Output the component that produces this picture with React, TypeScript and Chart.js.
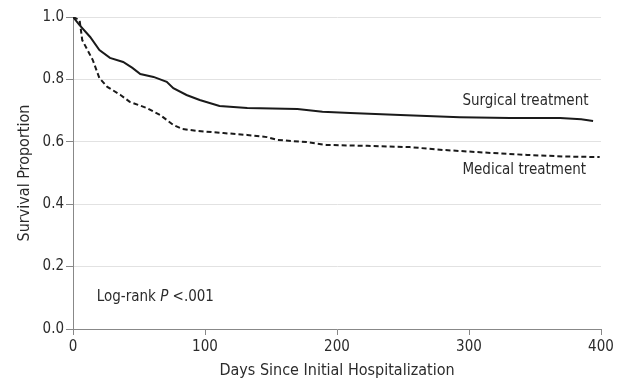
import React, { useEffect, useRef } from "react";
import { Chart, registerables } from "chart.js";

Chart.register(...registerables);

const surgicalDays = [0, 5, 13, 20, 28, 38, 45, 51, 61, 71, 76, 86, 96, 111, 132, 170, 189, 210, 248, 293, 331, 369, 385, 394];
const surgicalSurv = [1.0, 0.974, 0.936, 0.894, 0.869, 0.856, 0.837, 0.817, 0.808, 0.792, 0.772, 0.75, 0.734, 0.715, 0.708, 0.705, 0.696, 0.692, 0.686, 0.679, 0.676, 0.676, 0.672, 0.667];

const medicalDays = [0, 5, 7, 15, 20, 26, 36, 43, 56, 66, 76, 83, 94, 114, 132, 147, 155, 177, 192, 223, 255, 280, 318, 344, 372, 399];
const medicalSurv = [1.0, 0.99, 0.926, 0.862, 0.804, 0.776, 0.75, 0.728, 0.708, 0.686, 0.654, 0.641, 0.635, 0.628, 0.622, 0.615, 0.606, 0.599, 0.59, 0.587, 0.583, 0.574, 0.564, 0.558, 0.553, 0.551];

const yTicks = [0, 0.2, 0.4, 0.6, 0.8, 1.0];
const xTicks = [0, 100, 200, 300, 400];

const annotations = [
  { text: "Surgical treatment", day: 295, surv: 0.731 },
  { text: "Medical treatment", day: 295, surv: 0.51 },
];
const logRank = { day: 18, surv: 0.103 };

const FONT = "'DejaVu Sans Condensed', 'Liberation Sans Narrow', 'DejaVu Sans', sans-serif";
const TEXT = "#2b2b2b";

export default function App() {
  const ref = useRef<HTMLCanvasElement | null>(null);
  useEffect(() => {
    if (!ref.current) return;
    const labelPlugin = {
      id: "labels",
      afterDatasetsDraw(chart: any) {
        const { ctx, scales } = chart;
        const xs = scales.x, ys = scales.y;
        ctx.save();
        ctx.fillStyle = TEXT;
        ctx.textBaseline = "middle";
        ctx.textAlign = "left";
        ctx.font = `15px ${FONT}`;
        annotations.forEach((a) => {
          ctx.fillText(a.text, xs.getPixelForValue(a.day), ys.getPixelForValue(a.surv));
        });
        let x = xs.getPixelForValue(logRank.day);
        const y = ys.getPixelForValue(logRank.surv);
        const p1 = "Log-rank ";
        ctx.fillText(p1, x, y);
        x += ctx.measureText(p1).width;
        ctx.font = `italic 15px ${FONT}`;
        ctx.fillText("P", x, y);
        x += ctx.measureText("P").width;
        ctx.font = `15px ${FONT}`;
        ctx.fillText(" <.001", x, y);
        ctx.restore();
      },
    };
    const chart = new Chart(ref.current, {
      type: "line",
      data: {
        datasets: [
          {
            label: "Surgical treatment",
            data: surgicalDays.map((d, i) => ({ x: d, y: surgicalSurv[i] })),
            borderColor: "#1a1a1a",
            borderWidth: 2,
            pointRadius: 0,
            tension: 0,
          },
          {
            label: "Medical treatment",
            data: medicalDays.map((d, i) => ({ x: d, y: medicalSurv[i] })),
            borderColor: "#1a1a1a",
            borderWidth: 2,
            borderDash: [5, 3],
            pointRadius: 0,
            tension: 0,
          },
        ],
      },
      options: {
        animation: false,
        responsive: false,
        layout: { padding: { left: 0, top: 17, right: 16, bottom: 0 } },
        plugins: { legend: { display: false }, tooltip: { enabled: false } },
        scales: {
          x: {
            type: "linear",
            min: 0,
            max: 400,
            afterBuildTicks: (s: any) => { s.ticks = xTicks.map((v) => ({ value: v })); },
            afterFit: (s: any) => { s.height = 53; },
            grid: { drawOnChartArea: false, color: "#888", tickColor: "#888", tickLength: 6 },
            border: { color: "#888", width: 1 },
            ticks: { color: TEXT, font: { family: FONT, size: 15 }, padding: 3, maxRotation: 0 },
            title: { display: true, text: "Days Since Initial Hospitalization", color: TEXT, font: { family: FONT, size: 16 }, padding: { top: 0, bottom: 2 } },
          },
          y: {
            min: 0,
            max: 1,
            afterBuildTicks: (s: any) => { s.ticks = yTicks.map((v) => ({ value: v })); },
            afterFit: (s: any) => { s.width = 73; },
            grid: { color: "#e2e2e2", tickColor: "#888", tickLength: 7, lineWidth: 1 },
            border: { color: "#888", width: 1 },
            ticks: { color: TEXT, font: { family: FONT, size: 15 }, padding: 2, callback: (v: any) => Number(v).toFixed(1) },
            title: { display: true, text: "Survival Proportion", color: TEXT, font: { family: FONT, size: 16 }, padding: { top: 15, bottom: 0 } },
          },
        },
      },
      plugins: [labelPlugin],
    });
    return () => chart.destroy();
  }, []);
  return (
    <div style={{ position: "absolute", left: 0, top: 0, width: 617, height: 382, background: "#fff" }}>
      <canvas ref={ref} width={617} height={382} style={{ width: 617, height: 382 }} />
    </div>
  );
}
